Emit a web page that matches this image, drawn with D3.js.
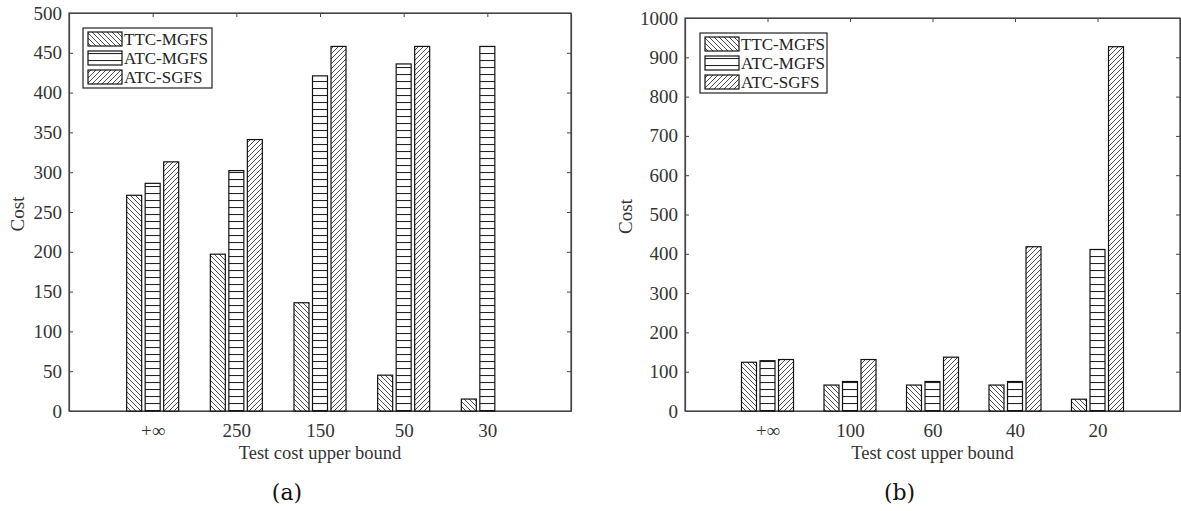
<!DOCTYPE html>
<html>
<head>
<meta charset="utf-8">
<script src="https://cdn.jsdelivr.net/npm/d3@7"></script>
<style>
    body { margin: 0; background: #fff; }
    svg { display: block; }
</style>
</head>
<body>
<div id="chart"></div>
<script>
// series names (legend order)
var seriesNames = ["TTC-MGFS", "ATC-MGFS", "ATC-SGFS"];

// panel (a)
var catsA = ["+\u221e", "250", "150", "50", "30"];
var ttcMgfsA = [271, 197, 136, 45, 15];
var atcMgfsA = [286, 302, 421, 436, 458];
var atcSgfsA = [313, 341, 458, 458, 0];
var yTicksA = [0, 50, 100, 150, 200, 250, 300, 350, 400, 450, 500];

// panel (b)
var catsB = ["+\u221e", "100", "60", "40", "20"];
var ttcMgfsB = [124, 66, 66, 66, 30];
var atcMgfsB = [128, 75, 75, 75, 411];
var atcSgfsB = [131, 131, 137, 418, 927];
var yTicksB = [0, 100, 200, 300, 400, 500, 600, 700, 800, 900, 1000];

var W = 1181, H = 511;
var font = "'Liberation Serif', 'Times New Roman', serif";
var axisColor = "#444";
var textColor = "#333";

var svg = d3.select("#chart").append("svg")
    .attr("width", W)
    .attr("height", H);

var defs = svg.append("defs");

// hatch patterns
var pBack = defs.append("pattern")
    .attr("id", "hatchBack")
    .attr("patternUnits", "userSpaceOnUse")
    .attr("width", 5).attr("height", 5);
pBack.append("rect").attr("width", 5).attr("height", 5).attr("fill", "#fff");
pBack.append("path")
    .attr("d", "M0,0L5,5M-1,4L1,6M4,-1L6,1")
    .attr("stroke", "#222").attr("stroke-width", 0.8);

var pHoriz = defs.append("pattern")
    .attr("id", "hatchHoriz")
    .attr("patternUnits", "userSpaceOnUse")
    .attr("width", 7).attr("height", 7)
    .attr("y", 4);
pHoriz.append("rect").attr("width", 7).attr("height", 7).attr("fill", "#fff");
pHoriz.append("path")
    .attr("d", "M0,0.5H7")
    .attr("stroke", "#222").attr("stroke-width", 1.1);

var pFwd = defs.append("pattern")
    .attr("id", "hatchFwd")
    .attr("patternUnits", "userSpaceOnUse")
    .attr("width", 5).attr("height", 5);
pFwd.append("rect").attr("width", 5).attr("height", 5).attr("fill", "#fff");
pFwd.append("path")
    .attr("d", "M0,5L5,0M-1,1L1,-1M4,6L6,4")
    .attr("stroke", "#222").attr("stroke-width", 0.8);

var fills = ["url(#hatchBack)", "url(#hatchHoriz)", "url(#hatchFwd)"];

function drawPanel(opt) {
    var g = svg.append("g");

    var x = d3.scaleLinear().domain([0, 6]).range([opt.left, opt.right]);
    var y = d3.scaleLinear().domain([0, opt.yMax]).range([opt.bottom, opt.top]);
    var sub = d3.scaleBand()
        .domain(seriesNames)
        .range([-26, 26])
        .paddingInner(0.19);

    var series = [opt.ttc, opt.atcM, opt.atcS];

    // frame
    g.append("rect")
        .attr("x", opt.left).attr("y", opt.top)
        .attr("width", opt.right - opt.left)
        .attr("height", opt.bottom - opt.top)
        .attr("fill", "none")
        .attr("stroke", axisColor)
        .attr("stroke-width", 1.2);

    // bars
    series.forEach(function (vals, si) {
        g.append("g").selectAll("rect")
            .data(vals.map(function (v, i) { return { v: v, i: i }; }).filter(function (d) { return d.v > 0; }))
            .join("rect")
            .attr("x", function (d) { return x(d.i + 1) + sub(seriesNames[si]); })
            .attr("y", function (d) { return y(d.v); })
            .attr("width", sub.bandwidth())
            .attr("height", function (d) { return y(0) - y(d.v); })
            .attr("fill", fills[si])
            .attr("stroke", "#111")
            .attr("stroke-width", 1.2);
    });

    // axes
    var yAxis = d3.axisLeft(y)
        .tickValues(opt.yTicks)
        .tickSizeInner(-4)
        .tickSizeOuter(0)
        .tickPadding(7)
        .tickFormat(d3.format("d"));
    var ga = g.append("g")
        .attr("transform", "translate(" + opt.left + ",0)")
        .call(yAxis);

    var yAxisR = d3.axisRight(y)
        .tickValues(opt.yTicks)
        .tickSizeInner(-4)
        .tickSizeOuter(0)
        .tickFormat("");
    var gr = g.append("g")
        .attr("transform", "translate(" + opt.right + ",0)")
        .call(yAxisR);

    var xAxis = d3.axisBottom(x)
        .tickValues([1, 2, 3, 4, 5])
        .tickSizeInner(-4)
        .tickSizeOuter(0)
        .tickPadding(13)
        .tickFormat(function (d) { return opt.cats[d - 1]; });
    var gb = g.append("g")
        .attr("transform", "translate(0," + opt.bottom + ")")
        .call(xAxis);

    var xAxisT = d3.axisTop(x)
        .tickValues([1, 2, 3, 4, 5])
        .tickSizeInner(-4)
        .tickSizeOuter(0)
        .tickFormat("");
    var gt = g.append("g")
        .attr("transform", "translate(0," + opt.top + ")")
        .call(xAxisT);

    [ga, gr, gb, gt].forEach(function (a) {
        a.attr("font-family", font).attr("font-size", 19);
        a.select(".domain").attr("stroke", axisColor).attr("stroke-width", 1.2);
        a.selectAll(".tick line").attr("stroke", axisColor).attr("stroke-width", 1);
        a.selectAll(".tick text").attr("fill", textColor);
    });
    gb.lower();

    // labels
    g.append("text")
        .attr("transform", "translate(" + opt.yLabelX + "," + ((opt.top + opt.bottom) / 2 + 2) + ") rotate(-90)")
        .attr("text-anchor", "middle")
        .attr("dy", "0.35em")
        .attr("fill", textColor)
        .attr("font-family", font)
        .attr("font-size", 19)
        .text("Cost");

    g.append("text")
        .attr("x", (opt.left + opt.right) / 2)
        .attr("y", 459)
        .attr("text-anchor", "middle")
        .attr("fill", textColor)
        .attr("font-family", font)
        .attr("font-size", 18.5)
        .text("Test cost upper bound");

    g.append("text")
        .attr("x", (opt.left + opt.right) / 2 - 33)
        .attr("y", 500)
        .attr("text-anchor", "middle")
        .attr("fill", "#111")
        .attr("font-family", "'DejaVu Serif', serif")
        .attr("font-size", 22)
        .text(opt.tag);

    // legend
    var lg = g.append("g").attr("transform", "translate(" + opt.legX + "," + opt.legY + ")");
    lg.append("rect")
        .attr("width", opt.legW).attr("height", 60)
        .attr("fill", "#fff")
        .attr("stroke", "#222")
        .attr("stroke-width", 1.2);
    seriesNames.forEach(function (name, i) {
        lg.append("rect")
            .attr("x", 5).attr("y", 4 + i * 19)
            .attr("width", 34).attr("height", 14)
            .attr("fill", fills[i])
            .attr("stroke", "#111")
            .attr("stroke-width", 1.2);
        lg.append("text")
            .attr("x", 41).attr("y", 11 + i * 19)
            .attr("dy", "0.35em")
            .attr("fill", "#222")
            .attr("font-family", font)
            .attr("font-size", 17)
            .text(name);
    });
}

drawPanel({
    left: 69, right: 571, top: 13, bottom: 411,
    yMax: 500, yTicks: yTicksA, cats: catsA,
    ttc: ttcMgfsA, atcM: atcMgfsA, atcS: atcSgfsA,
    yLabelX: 17, tag: "(a)",
    legX: 83, legY: 28, legW: 129
});

drawPanel({
    left: 685, right: 1180, top: 18, bottom: 411,
    yMax: 1000, yTicks: yTicksB, cats: catsB,
    ttc: ttcMgfsB, atcM: atcMgfsB, atcS: atcSgfsB,
    yLabelX: 625, tag: "(b)",
    legX: 700, legY: 33, legW: 127
});
</script>
</body>
</html>
